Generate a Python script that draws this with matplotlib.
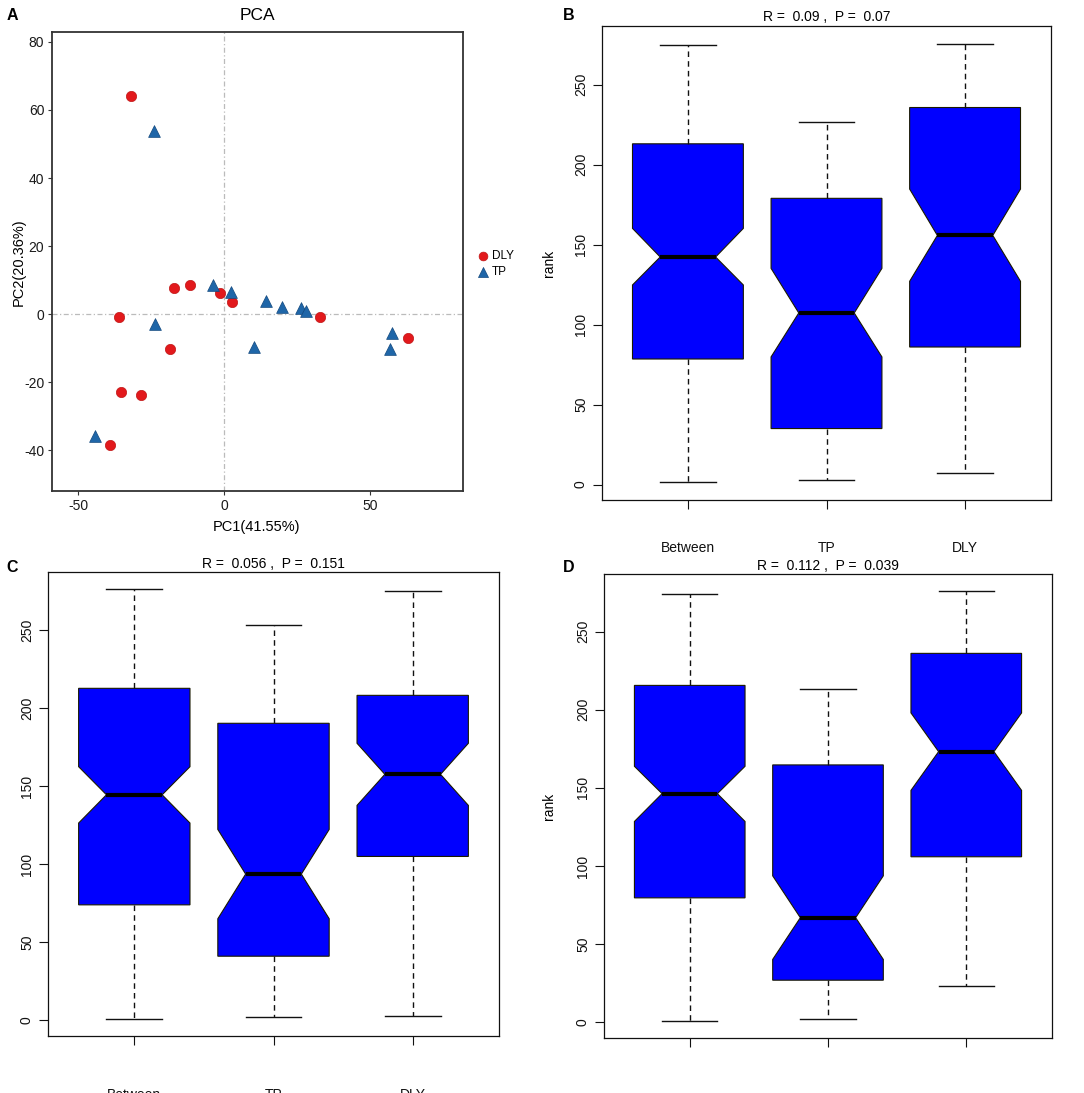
import matplotlib
matplotlib.use('Agg')
import matplotlib.pyplot as plt

plt.rcParams['font.family'] = ['Liberation Sans', 'DejaVu Sans']
plt.rcParams['axes.unicode_minus'] = False

W, H = 1084, 1093

# ---------------- Panel A: PCA ----------------
dly_pc1 = [-31.7, -17.1, -11.7, -1.3, 2.6, -36.1, -18.6, -35.3, -28.6, -39.2, 33.0, 63.1]
dly_pc2 = [64.1, 7.6, 8.5, 6.2, 3.7, -0.9, -10.3, -22.8, -23.7, -38.5, -0.8, -6.9]
tp_pc1 = [-24.0, -23.7, -3.7, 2.3, 14.4, 19.7, 26.2, 27.9, 10.1, 57.5, 56.8, -44.1]
tp_pc2 = [53.7, -2.9, 8.6, 6.6, 3.9, 2.1, 1.8, 1.0, -9.5, -5.4, -10.2, -35.7]
pca_xticks = [-50, 0, 50]
pca_yticks = [-40, -20, 0, 20, 40, 60, 80]

# ---------------- Box panels ----------------
groups = ['Between', 'TP', 'DLY']
box_yticks = [0, 50, 100, 150, 200, 250]

b_whislo = [1.3, 3.1, 7.3]
b_q1 = [78.5, 35.0, 86.0]
b_cilo = [124.8, 79.8, 127.1]
b_med = [142.3, 107.3, 155.8]
b_cihi = [160.2, 135.2, 184.8]
b_q3 = [213.1, 179.0, 235.8]
b_whishi = [274.8, 226.7, 275.8]
b_title = 'R =  0.09 ,  P =  0.07'

c_whislo = [0.9, 1.9, 3.0]
c_q1 = [73.9, 41.0, 104.9]
c_cilo = [126.3, 65.0, 137.6]
c_med = [144.4, 93.6, 157.5]
c_cihi = [162.4, 122.2, 177.4]
c_q3 = [212.6, 190.2, 208.1]
c_whishi = [276.1, 253.0, 274.8]
c_title = 'R =  0.056 ,  P =  0.151'

d_whislo = [0.9, 1.9, 23.1]
d_q1 = [79.6, 26.9, 105.9]
d_cilo = [128.5, 40.2, 148.4]
d_med = [146.3, 66.9, 173.2]
d_cihi = [163.8, 93.7, 198.0]
d_q3 = [215.6, 164.7, 236.1]
d_whishi = [274.2, 213.0, 275.9]
d_title = 'R =  0.112 ,  P =  0.039'

fig = plt.figure(figsize=(W / 100, H / 100), dpi=100)


def fax(l, t, r, b):
    return fig.add_axes([l / W, (H - b) / H, (r - l) / W, (b - t) / H])


def ftext(x, y, s, **kw):
    fig.text(x / W, (H - y) / H, s, **kw)


# ---- Panel A ----
axA = fax(52, 32, 463, 491)
axA.axhline(0, color='#BBBBBB', ls=(0, (4, 2, 1, 2)), lw=0.9, zorder=1)
axA.axvline(0, color='#BBBBBB', ls=(0, (4, 2, 1, 2)), lw=0.9, zorder=1)
axA.scatter(dly_pc1, dly_pc2, s=55, c='#E2191C', edgecolors='#C01616',
            linewidths=0.5, marker='o', label='DLY', zorder=3)
axA.scatter(tp_pc1, tp_pc2, s=72, c='#1F66A8', edgecolors='#12487E',
            linewidths=0.5, marker='^', label='TP', zorder=3)
axA.set_xlim(-58.9, 81.8)
axA.set_ylim(-51.9, 82.9)
axA.set_xticks(pca_xticks)
axA.set_yticks(pca_yticks)
axA.tick_params(length=3, width=0.8, color='#333333', labelsize=10,
                labelcolor='#1A1A1A', pad=2.5)
for sp in axA.spines.values():
    sp.set_linewidth(1.3)
    sp.set_color('#333333')
axA.legend(loc='center left', bbox_to_anchor=(1.035, 0.4946), frameon=False,
           fontsize=8.5, handletextpad=0.25, borderpad=0, borderaxespad=0,
           labelspacing=0.35, handlelength=1.0, markerscale=0.85)
ftext(257, 16, 'PCA', ha='center', va='center', fontsize=12.5)
ftext(257, 527, 'PC1(41.55%)', ha='center', va='center', fontsize=10.5)
ftext(19, 262, 'PC2(20.36%)', ha='center', va='center', fontsize=10.5, rotation=90)


def rbox(ax, whislo, q1, cilo, med, cihi, q3, whishi, labels, xpad):
    stats = []
    for i in range(len(groups)):
        stats.append(dict(whislo=whislo[i], q1=q1[i], cilo=cilo[i], med=med[i],
                          cihi=cihi[i], q3=q3[i], whishi=whishi[i],
                          fliers=[], label=labels[i]))
    ax.bxp(stats, positions=[1, 2, 3], widths=0.8, shownotches=True,
           patch_artist=True, showfliers=False,
           boxprops=dict(facecolor='#0000FF', edgecolor='#1A1A00', linewidth=0.8),
           medianprops=dict(color='black', linewidth=3, solid_capstyle='butt'),
           whiskerprops=dict(color='#111111', linestyle=(0, (4, 3)), linewidth=1.0),
           capprops=dict(color='#111111', linewidth=1.0))
    lo = min(whislo)
    hi = max(whishi)
    ext = 0.04 * (hi - lo)
    ax.set_ylim(lo - ext, hi + ext)
    ax.set_xlim(0.38, 3.62)
    ax.set_yticks(box_yticks)
    ax.set_yticklabels([str(v) for v in box_yticks])
    ax.tick_params(axis='both', direction='out', length=6.5, width=0.8,
                   color='#111111', labelsize=10, labelcolor='#111111')
    ax.tick_params(axis='x', pad=xpad)
    ax.tick_params(axis='y', pad=3.6)
    for lab in ax.get_yticklabels():
        lab.set_rotation(90)
        lab.set_va('center')
    for sp in ax.spines.values():
        sp.set_linewidth(0.9)
        sp.set_color('#111111')


# ---- Panel B ----
axB = fax(602, 26, 1051, 500)
rbox(axB, b_whislo, b_q1, b_cilo, b_med, b_cihi, b_q3, b_whishi, groups, 23)
ftext(826.5, 17, b_title, ha='center', va='center', fontsize=10)
ftext(548.5, 263, 'rank', ha='center', va='center', fontsize=10, rotation=90)

# ---- Panel C ----
axC = fax(48, 572, 499, 1036)
rbox(axC, c_whislo, c_q1, c_cilo, c_med, c_cihi, c_q3, c_whishi, groups, 31)
ftext(273.5, 564, c_title, ha='center', va='center', fontsize=10)

# ---- Panel D ----
axD = fax(604, 574, 1052, 1038)
rbox(axD, d_whislo, d_q1, d_cilo, d_med, d_cihi, d_q3, d_whishi, ['', '', ''], 23)
ftext(828, 566, d_title, ha='center', va='center', fontsize=10)
ftext(549, 806, 'rank', ha='center', va='center', fontsize=10, rotation=90)

# panel letters
for (x, y, s) in [(12, 15, 'A'), (569, 15, 'B'), (12, 568, 'C'), (569, 568, 'D')]:
    ftext(x, y, s, ha='center', va='center', fontsize=11.5, fontweight='bold')

fig.savefig('out.png', dpi=100)
